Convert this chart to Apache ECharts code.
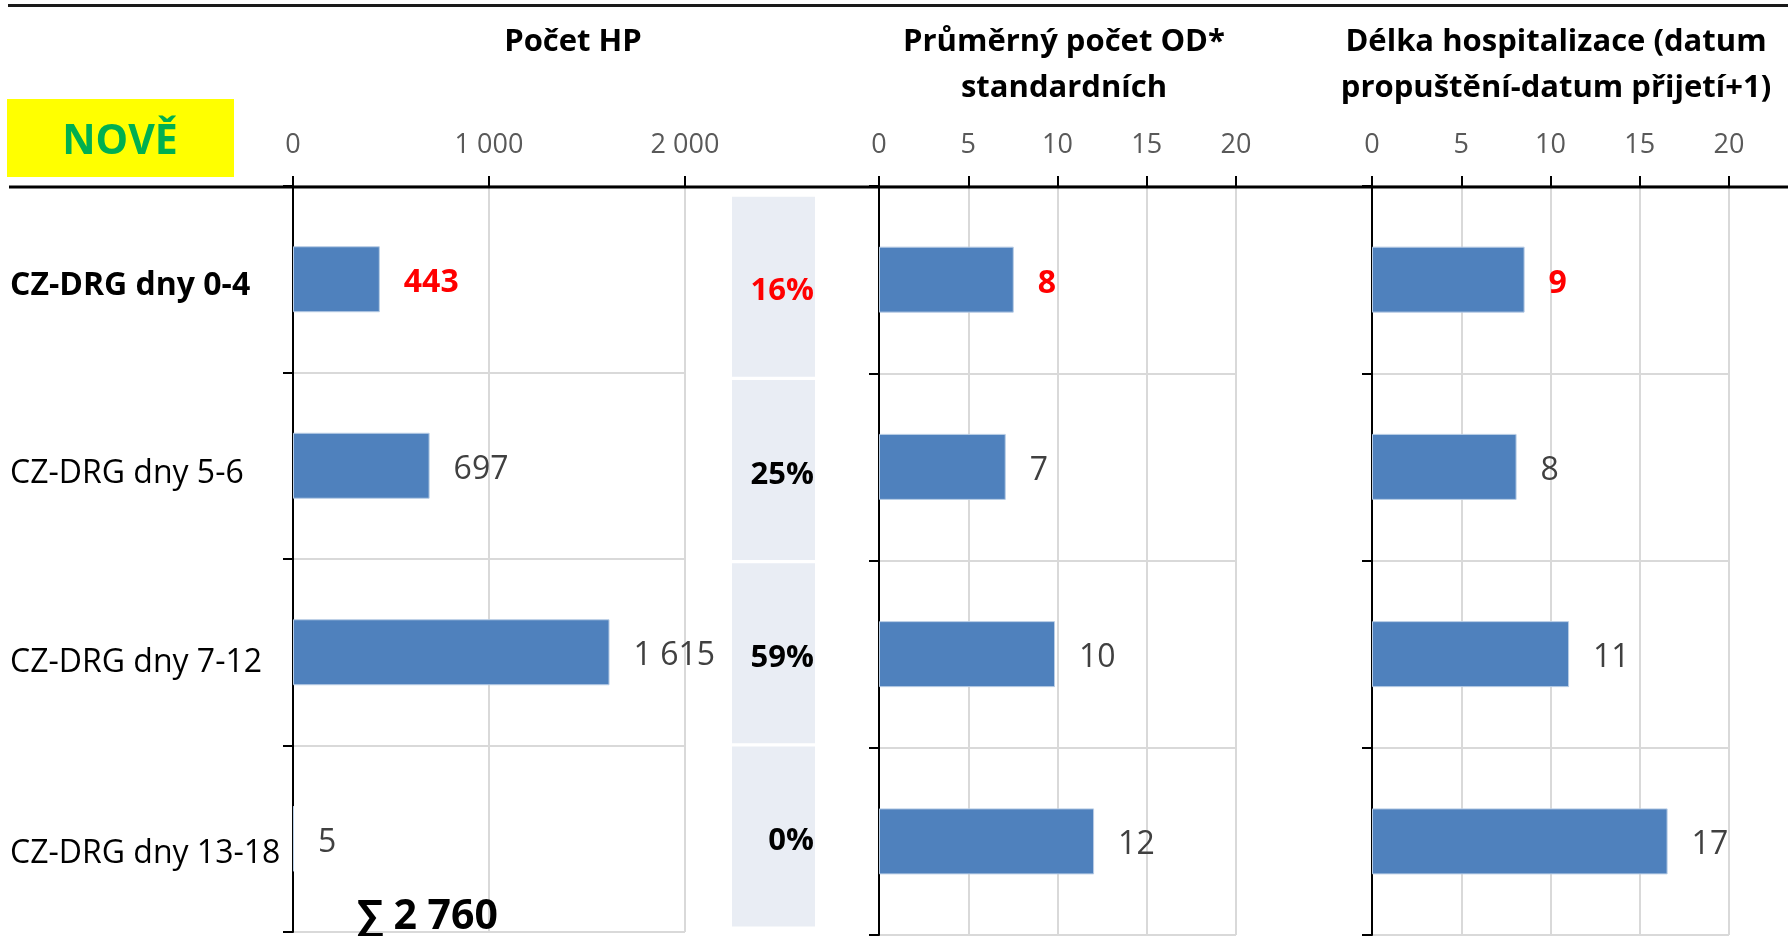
<!DOCTYPE html>
<html>
<head>
<meta charset="utf-8">
<script src="https://cdn.jsdelivr.net/npm/echarts@6/dist/echarts.min.js"></script>
<style>
  html, body { margin: 0; padding: 0; background: #fff; }
  #main { width: 1788px; height: 936px; }
</style>
</head>
<body>
<div id="main"></div>
<script>
// data
var categories = ['CZ-DRG dny 0-4', 'CZ-DRG dny 5-6', 'CZ-DRG dny 7-12', 'CZ-DRG dny 13-18'];
var countHP = [443, 697, 1615, 5];
var avgOD = [7.55, 7.1, 9.86, 12.05];
var losDays = [8.55, 8.1, 11.04, 16.56];
var panelTitles = ['Počet HP', 'Průměrný počet OD*\nstandardních', 'Délka hospitalizace (datum\npropuštění-datum přijetí+1)'];

var FONT = '"Open Sans", "Noto Sans", sans-serif';
var BLUE = '#4F81BD';
var GRID_GRAY = '#D9D9D9';

function fmt(n) {
  return String(n).replace(/\B(?=(\d{3})+(?!\d))/g, ' ');
}

var total = countHP.reduce(function (a, b) { return a + b; }, 0);
var pct = countHP.map(function (v) { return Math.round(v / total * 100); });

var chart = echarts.init(document.getElementById('main'));

function highlightFirst(values) {
  return values.map(function (v, i) {
    return i === 0 ? { value: v, label: { color: '#FF0000', fontWeight: 'bold' } } : v;
  });
}

function valueAxis(gi, max, interval) {
  return {
    type: 'value', gridIndex: gi, position: 'top', min: 0, max: max, interval: interval,
    axisLine: { show: false },
    axisTick: { show: true, length: 10, lineStyle: { color: '#000', width: 2 } },
    axisLabel: { margin: 27, fontSize: 27, color: '#595959', fontFamily: FONT, formatter: function (v) { return fmt(v); } },
    splitLine: { show: true, lineStyle: { color: GRID_GRAY, width: 2 } }
  };
}

// small per-row nudges so the labels sit like in the original
var rowPad = [14, 16, 22, 30];
var labelRich = {};
rowPad.forEach(function (p, i) {
  labelRich['r' + i] = { padding: [p, 0, 0, 0], fontSize: 32, fontFamily: FONT, color: '#000', fontWeight: i === 0 ? 'bold' : 'normal' };
});

function catAxis(gi, showLabels) {
  return {
    type: 'category', gridIndex: gi, inverse: true,
    data: categories,
    axisLine: { show: true, lineStyle: { color: '#000', width: 2 } },
    axisTick: { show: true, length: 10, lineStyle: { color: '#000', width: 2 } },
    axisLabel: {
      show: showLabels, align: 'left', margin: 283, fontSize: 32, color: '#000',
      fontFamily: FONT,
      formatter: function (v, i) { return '{r' + i + '|' + v + '}'; },
      rich: labelRich
    },
    splitLine: { show: true, lineStyle: { color: GRID_GRAY, width: 2 } }
  };
}

function barSeries(gi, values) {
  return {
    type: 'bar', xAxisIndex: gi, yAxisIndex: gi, barWidth: 66,
    data: highlightFirst(values),
    itemStyle: { color: BLUE, borderColor: '#B9CDE5', borderWidth: 1 },
    label: {
      show: true, position: 'right', distance: 24, offset: [0, 4], fontSize: 32, color: '#404040',
      fontFamily: FONT,
      formatter: function (p) { return fmt(Math.round(p.value)); }
    },
    silent: true
  };
}

var option = {
  backgroundColor: '#fff',
  animation: false,
  grid: [
    { left: 293, top: 186, width: 392, height: 746, outerBoundsMode: 'none', containLabel: false },
    { left: 732, top: 195, width: 83, height: 733, outerBoundsMode: 'none', containLabel: false },
    { left: 879, top: 186, width: 357, height: 749, outerBoundsMode: 'none', containLabel: false },
    { left: 1372, top: 186, width: 357, height: 749, outerBoundsMode: 'none', containLabel: false }
  ],
  xAxis: [
    valueAxis(0, 2000, 1000),
    { type: 'value', gridIndex: 1, min: 0, max: 1, show: false },
    valueAxis(2, 20, 5),
    valueAxis(3, 20, 5)
  ],
  yAxis: [
    catAxis(0, true),
    { type: 'category', gridIndex: 1, inverse: true, data: categories, show: false },
    catAxis(2, false),
    catAxis(3, false)
  ],
  series: [
    barSeries(0, countHP),
    {
      type: 'bar', xAxisIndex: 1, yAxisIndex: 1, barWidth: 180,
      data: pct.map(function (v, i) {
        return i === 0 ? { value: 1, label: { color: '#FF0000' } } : 1;
      }),
      itemStyle: { color: '#E9EDF4' },
      label: {
        show: true, position: 'insideRight', distance: 1, offset: [0, 5], fontSize: 31, fontWeight: 'bold',
        fontFamily: FONT, color: '#000',
        formatter: function (p) { return pct[p.dataIndex] + '%'; }
      },
      silent: true
    },
    barSeries(2, avgOD),
    barSeries(3, losDays)
  ],
  graphic: [
    { type: 'line', shape: { x1: 8, y1: 5.5, x2: 1788, y2: 5.5 }, style: { stroke: '#1a1a1a', lineWidth: 3 }, z: 10 },
    { type: 'line', shape: { x1: 9, y1: 187, x2: 1788, y2: 187 }, style: { stroke: '#000', lineWidth: 3 }, z: 10 },
    { type: 'rect', shape: { x: 7, y: 99, width: 227, height: 78 }, style: { fill: '#FFFF00' } },
    { type: 'text', x: 120, y: 142, style: { text: 'NOVĚ', fill: '#00B050', font: 'bold 41px ' + FONT, textAlign: 'center', textVerticalAlign: 'middle' } },
    { type: 'text', x: 573, y: 42, style: { text: panelTitles[0], fill: '#000', font: 'bold 31px ' + FONT, textAlign: 'center', textVerticalAlign: 'middle' } },
    { type: 'text', x: 1064, y: 65, style: { text: panelTitles[1], fill: '#000', font: 'bold 31px ' + FONT, lineHeight: 46, textAlign: 'center', textVerticalAlign: 'middle' } },
    { type: 'text', x: 1556, y: 65, style: { text: panelTitles[2], fill: '#000', font: 'bold 31px ' + FONT, lineHeight: 46, textAlign: 'center', textVerticalAlign: 'middle' } },
    { type: 'text', x: 357, y: 917, style: { text: '∑ ' + fmt(total), fill: '#000', font: 'bold 41px ' + FONT, textAlign: 'left', textVerticalAlign: 'middle' }, z: 10 }
  ]
};

chart.setOption(option);
</script>
</body>
</html>
